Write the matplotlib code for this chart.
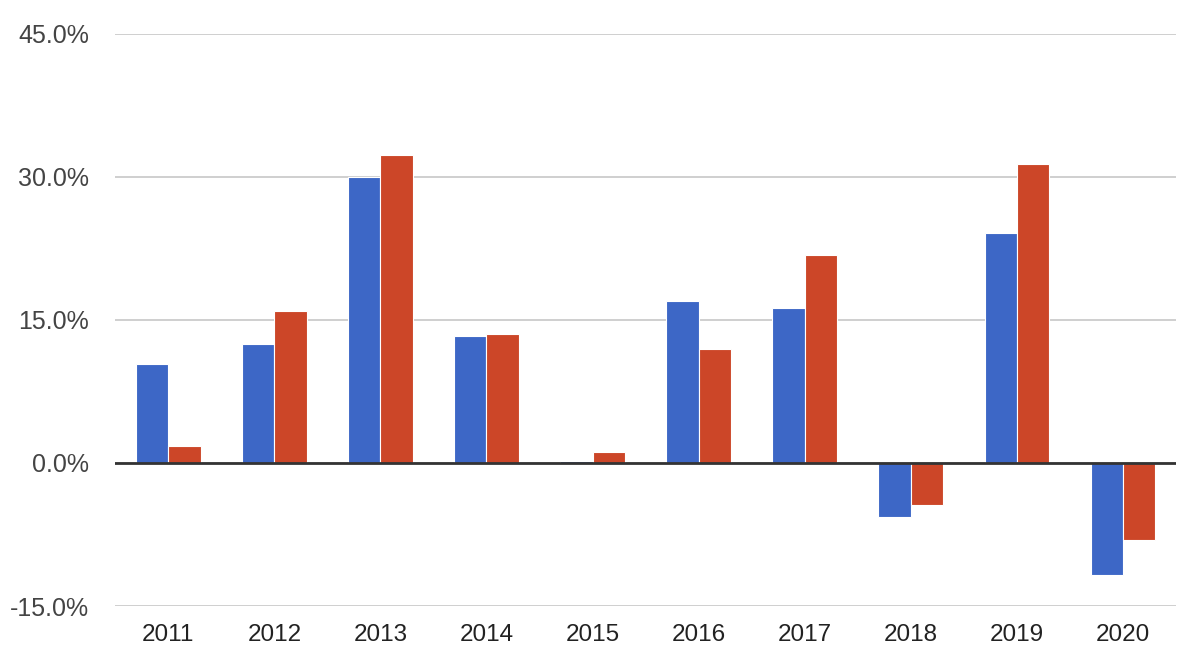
import numpy as np
import matplotlib.pyplot as plt
from matplotlib.ticker import FuncFormatter

# 数据
years = ['2011', '2012', '2013', '2014', '2015', '2016', '2017', '2018', '2019', '2020']
blue_vals = [10.4, 12.5, 30.0, 13.3, 0.25, 17.0, 16.2, -5.7, 24.1, -11.8]
red_vals = [1.8, 15.9, 32.3, 13.5, 1.2, 11.9, 21.8, -4.4, 31.3, -8.1]

plt.rcParams['font.family'] = ['Liberation Sans', 'DejaVu Sans']

fig = plt.figure(figsize=(12, 6.7), dpi=100, facecolor='white')
ax = fig.add_axes([0.096, 0.0955, 0.884, 0.854])

x = np.arange(len(years))
w = 0.305
ax.bar(x - w / 2, blue_vals, width=w, color='#3d67c6', edgecolor='white', linewidth=0.8, zorder=3)
ax.bar(x + w / 2, red_vals, width=w, color='#cc4628', edgecolor='white', linewidth=0.8, zorder=3)

ax.set_xlim(-0.5, len(years) - 0.5)
ax.set_ylim(-15, 45)
ax.set_yticks([-15, 0, 15, 30, 45])
ax.yaxis.set_major_formatter(FuncFormatter(lambda v, p: f'{v:.1f}%'))
ax.set_xticks(x)
ax.set_xticklabels(years)

# 网格线和零线
ax.grid(axis='y', color='#cccccc', linewidth=1.3, zorder=0)
ax.axhline(0, color='#333333', linewidth=2, zorder=4)

for s in ax.spines.values():
    s.set_visible(False)
ax.tick_params(axis='both', length=0)
ax.tick_params(axis='y', pad=19, labelcolor='#444444', labelsize=18)
ax.tick_params(axis='x', pad=13, labelcolor='#222222', labelsize=17.5)

plt.savefig('out.png', dpi=100, facecolor='white')
plt.close()
